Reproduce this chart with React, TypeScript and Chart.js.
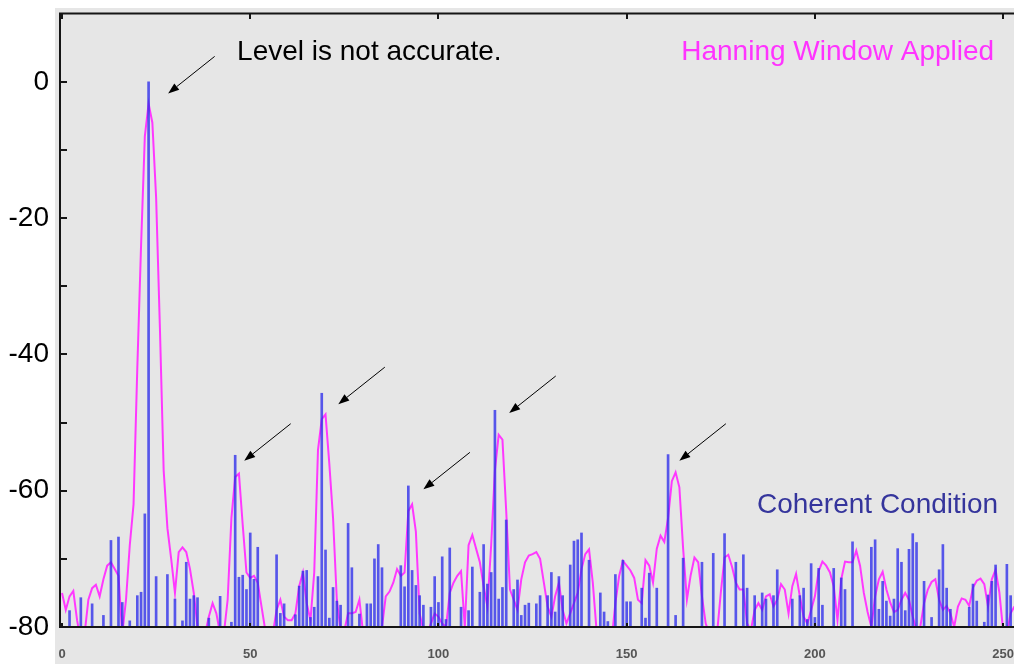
import React, { useEffect, useRef } from "react";
import { Chart, registerables } from "chart.js";

Chart.register(...registerables);

// Hanning-window spectrum, dB, one value per FFT bin (0..253)
const hanningDb = [
  -75, -77.5, -75.5, -74.7, -79, -82, -81, -76, -74.3, -73.8,
  -75.5, -73, -71, -70.5, -71.5, -72.5, -81, -76, -68, -62,
  -42, -24, -8, -3.2, -6, -17, -36, -57, -65.5, -70,
  -75, -69, -68.3, -69, -71.5, -75, -80, -82, -81, -78.5,
  -76.5, -78, -81, -81, -76, -64, -58, -57.5, -65, -72,
  -72.8, -72.5, -73.5, -77, -80.5, -82, -81, -77.5, -76, -78.5,
  -79, -79, -78, -74, -72, -76.5, -79, -72, -54, -49.5,
  -48.8, -56, -64, -76, -80.5, -80.5, -78, -78, -77.8, -76,
  -81, -82, -82, -82, -82, -80, -75.5, -74.8, -73.5, -71.5,
  -72.5, -72, -63, -62, -66, -78, -80.5, -81, -79.5, -78,
  -78.5, -79.5, -80, -75, -73.5, -72.5, -71.8, -80, -68, -66.5,
  -68.5, -70.5, -74, -77, -68, -57, -51.8, -52.5, -63, -74.5,
  -76, -77.5, -73, -70.5, -69.5, -69.3, -69, -70, -73.5, -77,
  -78.5, -75.5, -73.5, -77.5, -79.5, -78, -76.5, -75, -71.5, -69.3,
  -68.6, -73.5, -80.5, -82, -82, -82, -82, -76.5, -72.5, -70.3,
  -71, -71.7, -72.8, -76, -76.5, -70.2, -71, -73.5, -68.5, -66.6,
  -67.5, -64, -58.6, -57.3, -59.5, -68.5, -76, -72.4, -69.8, -70.5,
  -75.5, -79.5, -81, -82, -81, -75, -69.8, -69.4, -71.2, -73.5,
  -74.5, -74.5, -79.5, -80.5, -77.5, -76.5, -77.5, -75.5, -75.2, -77,
  -76, -73.7, -74.5, -78, -74, -72.2, -75.5, -78.5, -79.5, -77.5,
  -75.5, -71.8, -70.4, -71, -72, -74, -79, -73, -70.4, -70.5,
  -70.5, -68.8, -71, -75, -77.8, -80, -75.5, -73, -71.9, -74.5,
  -76.4, -77.8, -77.5, -76, -75, -76, -78.5, -80.5, -80, -76.5,
  -74.5, -73.4, -73, -76, -77.5, -76.9, -78, -80, -77, -75.8,
  -76, -76.9, -74.2, -73.2, -72.9, -73.7, -77, -73, -71.6, -74.9,
  -80.5, -81, -78, -77,
];

// Coherent-condition spectrum lines: bin index and level (dB)
const coherentBins = [
  2, 5, 8, 11, 13, 15, 16, 18, 20, 21, 22, 23, 25, 28, 30, 32, 33, 34, 35, 36,
  39, 42, 45, 46, 47, 48, 49, 50, 51, 52, 57, 58, 59, 62, 63, 64, 65, 66, 67, 68,
  69, 70, 71, 72, 73, 74, 76, 77, 79, 81, 82, 83, 84, 85, 90, 91, 92, 93, 94, 95,
  96, 98, 99, 100, 101, 102, 103, 106, 108, 109, 111, 112, 113, 114, 115, 116, 117, 118, 120, 121,
  122, 123, 124, 126, 127, 129, 130, 131, 132, 133, 135, 136, 137, 138, 140, 143, 144, 145, 147, 149,
  150, 151, 154, 155, 156, 158, 161, 163, 165, 170, 173, 176, 179, 181, 182, 184, 186, 187, 189, 190,
  194, 196, 197, 198, 199, 200, 201, 202, 205, 207, 208, 210, 215, 216, 217, 218, 219, 220, 221, 222,
  223, 224, 225, 226, 227, 229, 231, 233, 234, 235, 236, 241, 242, 243, 245, 246, 247, 248, 251, 252,
];
const coherentDb = [
  -77.6, -75.7, -76.6, -78.3, -67.3, -66.8, -76.4, -79.1, -75.4, -74.9, -63.4, 0, -72.6, -72.3, -75.9, -79.1, -70.5, -75.9, -75.4, -75.7,
  -78.7, -75.5, -79.3, -54.8, -72.7, -72.4, -74.5, -66.2, -73.0, -68.3, -69.4, -78.0, -76.6, -78.2, -74.0, -71.8, -71.7, -78.6, -77.1, -72.6,
  -45.7, -68.7, -78.7, -74.2, -76.2, -76.8, -64.8, -71.3, -78.1, -76.6, -76.6, -70.0, -67.9, -71.3, -71.0, -74.1, -59.3, -71.7, -73.9, -75.4,
  -76.8, -77.1, -72.6, -76.4, -69.7, -78.9, -68.4, -77.1, -77.6, -71.2, -74.9, -67.9, -73.7, -72.0, -48.2, -75.9, -74.2, -64.3, -74.5, -73.1,
  -78.3, -76.8, -76.5, -76.6, -75.4, -75.4, -72.0, -77.8, -72.6, -75.4, -70.9, -67.4, -67.2, -66.2, -70.2, -75.0, -77.8, -79.2, -72.3, -70.2,
  -76.3, -76.3, -74.3, -78.7, -72.1, -74.3, -54.7, -78.3, -69.9, -70.5, -69.2, -66.3, -70.5, -69.4, -74.3, -75.4, -75.0, -75.9, -75.4, -71.6,
  -75.9, -75.4, -74.3, -78.9, -70.7, -78.6, -71.4, -76.8, -71.4, -72.8, -74.5, -67.5, -68.3, -67.2, -77.4, -73.3, -76.2, -78.4, -75.9, -68.5,
  -70.5, -77.6, -68.6, -66.3, -67.6, -73.3, -78.6, -71.6, -67.9, -74.3, -77.4, -77.1, -73.7, -76.2, -79.3, -75.3, -73.3, -70.9, -70.8, -75.4,
];

const xTickValues = [0, 50, 100, 150, 200, 250];
const yTickValues = [-80, -60, -40, -20, 0];
const yMinorTickValues = [0, -10, -20, -30, -40, -50, -60, -70];

// Arrow tips (bin, dB) pointing at the windowed peaks
const arrowBins = [28.2, 48.4, 73.4, 96.0, 118.8, 164.0];
const arrowDb = [-1.7, -55.6, -47.3, -59.8, -48.6, -55.6];

const noteTexts = ["Level is not accurate.", "Hanning Window Applied", "Coherent Condition"];

const FONT = "'Liberation Sans', Arial, sans-serif";

export default function App() {
  const ref = useRef<HTMLCanvasElement>(null);

  useEffect(() => {
    const canvas = ref.current!;

    const decor = {
      id: "decor",
      beforeDraw(chart: any) {
        const { ctx, width, height } = chart;
        ctx.save();
        ctx.fillStyle = "#ffffff";
        ctx.fillRect(0, 0, width, height);
        ctx.fillStyle = "#e6e6e6";
        ctx.fillRect(55, 8, width - 55, height - 8);
        ctx.restore();
      },
      afterDraw(chart: any) {
        const { ctx, chartArea, width } = chart;
        const xs = chart.scales.x;
        const ys = chart.scales.y;
        const { left, top, bottom } = chartArea;
        ctx.save();
        // frame
        ctx.strokeStyle = "#151515";
        ctx.lineWidth = 2;
        ctx.beginPath();
        ctx.moveTo(left - 2, top + 0.5);
        ctx.lineTo(width, top + 0.5);
        ctx.moveTo(left - 1, top);
        ctx.lineTo(left - 1, bottom + 1);
        ctx.moveTo(left - 2, bottom);
        ctx.lineTo(width, bottom);
        ctx.stroke();
        // inward ticks
        ctx.beginPath();
        yMinorTickValues.forEach((v) => {
          const py = Math.round(ys.getPixelForValue(v));
          ctx.moveTo(left - 1, py);
          ctx.lineTo(left + 6, py);
        });
        xTickValues.forEach((v) => {
          const px = Math.round(xs.getPixelForValue(v));
          ctx.moveTo(px, top);
          ctx.lineTo(px, top + 6);
          ctx.moveTo(px, bottom);
          ctx.lineTo(px, bottom - 4);
        });
        ctx.stroke();

        // arrows
        ctx.strokeStyle = "#000";
        ctx.fillStyle = "#000";
        ctx.lineWidth = 1;
        arrowBins.forEach((b, i) => {
          const hx = xs.getPixelForValue(b);
          const hy = ys.getPixelForValue(arrowDb[i]);
          const tx = hx + 46.5;
          const ty = hy - 37;
          const ang = Math.atan2(hy - ty, hx - tx);
          const len = 11;
          const hw = 4;
          const bx = hx - len * Math.cos(ang);
          const by = hy - len * Math.sin(ang);
          ctx.beginPath();
          ctx.moveTo(tx, ty);
          ctx.lineTo(bx, by);
          ctx.stroke();
          ctx.beginPath();
          ctx.moveTo(hx, hy);
          ctx.lineTo(bx + hw * Math.sin(ang), by - hw * Math.cos(ang));
          ctx.lineTo(bx - hw * Math.sin(ang), by + hw * Math.cos(ang));
          ctx.closePath();
          ctx.fill();
        });

        // notes
        ctx.font = `28px ${FONT}`;
        ctx.textBaseline = "alphabetic";
        ctx.textAlign = "left";
        ctx.fillStyle = "#000000";
        ctx.fillText(noteTexts[0], xs.getPixelForValue(46.5), ys.getPixelForValue(3.2));
        ctx.fillStyle = "#ff33ff";
        ctx.fillText(noteTexts[1], xs.getPixelForValue(164.5), ys.getPixelForValue(3.2));
        ctx.fillStyle = "#35359c";
        ctx.fillText(noteTexts[2], xs.getPixelForValue(184.6), ys.getPixelForValue(-63.2));
        ctx.restore();
      },
    };

    const chart = new Chart(canvas, {
      type: "bar",
      data: {
        datasets: [
          {
            type: "bar",
            data: coherentBins.map((b, i) => ({ x: b, y: [-80, coherentDb[i]] })) as any,
            backgroundColor: "rgba(45,45,235,0.78)",
            borderWidth: 0,
            barThickness: 2,
            order: 0,
          } as any,
          {
            type: "line",
            data: hanningDb.map((v, i) => ({ x: i, y: v })),
            borderColor: "#ff38ff",
            borderWidth: 2,
            pointRadius: 0,
            tension: 0,
            fill: false,
            order: 1,
          } as any,
        ],
      },
      options: {
        responsive: false,
        maintainAspectRatio: false,
        devicePixelRatio: 1,
        animation: false,
        events: [],
        layout: { padding: { top: 13, left: 0, right: 0, bottom: 0 } },
        plugins: { legend: { display: false }, tooltip: { enabled: false } },
        scales: {
          x: {
            type: "linear",
            offset: false,
            min: -0.27,
            max: 259.8,
            afterBuildTicks: (s: any) => {
              s.ticks = xTickValues.map((v) => ({ value: v }));
            },
            afterFit: (s: any) => {
              s.height = 37;
              s.paddingLeft = 0;
              s.paddingRight = 0;
              s.paddingTop = 0;
              s.paddingBottom = 0;
            },
            grid: { display: false, drawTicks: false },
            border: { display: false },
            ticks: {
              padding: 20,
              color: "#555555",
              font: { family: FONT, size: 13, weight: "bold" },
              maxRotation: 0,
              autoSkip: false,
              callback: (v: any) => String(v),
            },
          },
          y: {
            type: "linear",
            min: -80,
            max: 10.1,
            afterBuildTicks: (s: any) => {
              s.ticks = yTickValues.map((v) => ({ value: v }));
            },
            afterFit: (s: any) => {
              s.width = 61;
              s.paddingLeft = 0;
              s.paddingRight = 0;
              s.paddingTop = 0;
              s.paddingBottom = 0;
            },
            grid: { display: false, drawTicks: false },
            border: { display: false },
            ticks: {
              padding: 12,
              color: "#000000",
              font: { family: FONT, size: 28 },
              autoSkip: false,
              callback: (v: any) => String(v),
            },
          },
        },
      },
      plugins: [decor],
    });
    return () => chart.destroy();
  }, []);

  return (
    <div
      style={{
        position: "fixed",
        left: 0,
        top: 0,
        width: 1014,
        height: 664,
        overflow: "hidden",
        background: "#fff",
      }}
    >
      <canvas ref={ref} width={1040} height={664} style={{ display: "block" }} />
    </div>
  );
}
